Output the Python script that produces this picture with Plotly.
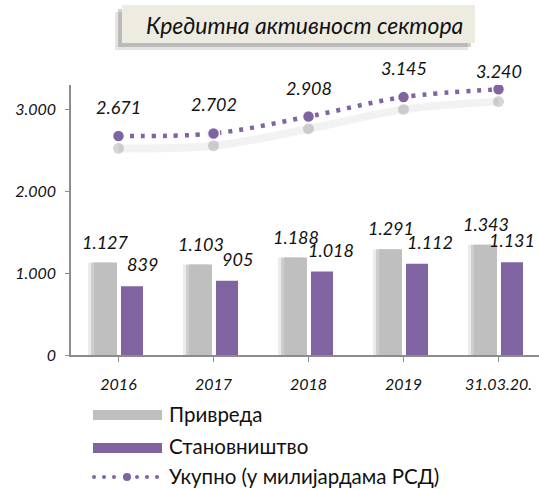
import plotly.graph_objects as go

# ---- data ----
categories = ["2016", "2017", "2018", "2019", "31.03.20."]
privreda = [1127, 1103, 1188, 1291, 1343]
stanovnistvo = [839, 905, 1018, 1112, 1131]
ukupno = [2671, 2702, 2908, 3145, 3240]
y_tick_vals = [0, 1000, 2000, 3000]
y_tick_text = ["0", "1.000", "2.000", "3.000"]
privreda_labels = ["1.127", "1.103", "1.188", "1.291", "1.343"]
stanovnistvo_labels = ["839", "905", "1.018", "1.112", "1.131"]
ukupno_labels = ["2.671", "2.702", "2.908", "3.145", "3.240"]
title_text = "Кредитна активност сектора"
legend_names = ["Привреда", "Становништво", "Укупно (у милијардама РСД)"]

# ---- style ----
W, H = 539, 489
ML, MR, MT, MB = 71, 0, 85, 134
PW, PH = W - ML - MR, H - MT - MB
CAT_PX = 95.0
YMAX = PH / 82.0 * 1000
GRAY = "#BFBFBF"
PURPLE = "#8064A2"
FONT = "Lato, 'Noto Sans', sans-serif"
purple_label_dx = [11, 11, 9, 13, 0]
ukupno_label_dy = [29, 29, 29, 29, 18]

x_idx = list(range(len(categories)))


def px_x(p):
    return (p - ML) / PW


def px_y(p):
    return (H - MB - p) / PH


fig = go.Figure()

# shadows for bars (soft, offset left)
for alpha, shift in [(0.08, 6), (0.12, 3)]:
    fig.add_trace(go.Bar(x=x_idx, y=privreda, offset=-0.258 - shift / CAT_PX, width=0.242,
                         marker=dict(color=f"rgba(0,0,0,{alpha})", line=dict(width=0)),
                         showlegend=False, hoverinfo="skip"))

fig.add_trace(go.Bar(x=x_idx, y=privreda, offset=-0.258, width=0.242, name=legend_names[0],
                     marker=dict(color=GRAY, line=dict(width=0)), showlegend=False))
fig.add_trace(go.Bar(x=x_idx, y=stanovnistvo, offset=0.026, width=0.232, name=legend_names[1],
                     marker=dict(color=PURPLE, line=dict(width=0)), showlegend=False))

# line shadow on shifted axis
fig.add_trace(go.Scatter(x=x_idx, y=ukupno, mode="lines+markers", yaxis="y2",
                         line=dict(color="rgba(0,0,0,0.05)", width=8, shape="spline"),
                         marker=dict(size=11, color="rgba(0,0,0,0.16)"),
                         showlegend=False, hoverinfo="skip"))
fig.add_trace(go.Scatter(x=x_idx, y=ukupno, mode="lines+markers", name=legend_names[2],
                         line=dict(color=PURPLE, width=4.5, dash="4px,7px", shape="spline"),
                         marker=dict(size=12, color=PURPLE, line=dict(color="white", width=1.5)),
                         showlegend=False))

ann = []
lab_font = dict(family=FONT, size=18, color="#111111")
for i in x_idx:
    ann.append(dict(x=i, y=privreda[i], text=f"<i>{privreda_labels[i]}</i>", showarrow=False,
                    xshift=-13, yshift=21, font=lab_font))
    ann.append(dict(x=i, y=stanovnistvo[i], text=f"<i>{stanovnistvo_labels[i]}</i>", showarrow=False,
                    xshift=13 + purple_label_dx[i], yshift=22, font=lab_font))
    ann.append(dict(x=i, y=ukupno[i], text=f"<i>{ukupno_labels[i]}</i>", showarrow=False,
                    yshift=ukupno_label_dy[i], font=lab_font))

shapes = []
# title box with shadow
for alpha, d in [(0.10, 7), (0.18, 4)]:
    shapes.append(dict(type="rect", xref="paper", yref="paper", layer="above",
                       x0=px_x(122 - d), x1=px_x(475 - d), y0=px_y(43 + d), y1=px_y(5 + d),
                       fillcolor=f"rgba(0,0,0,{alpha})", line=dict(width=0)))
shapes.append(dict(type="rect", xref="paper", yref="paper", layer="above",
                   x0=px_x(122), x1=px_x(475), y0=px_y(43), y1=px_y(5),
                   fillcolor="#EEECE1", line=dict(width=0)))
ann.append(dict(xref="paper", yref="paper", x=px_x(304), y=px_y(25), xanchor="center", yanchor="middle",
                showarrow=False, text=f"<i>{title_text}</i>",
                font=dict(family=FONT, size=23, color="#111111")))

# legend (manual)
leg_rows = [415, 447, 477]
shapes.append(dict(type="rect", xref="paper", yref="paper", x0=px_x(93), x1=px_x(162),
                   y0=px_y(420), y1=px_y(410), fillcolor=GRAY, line=dict(width=0)))
shapes.append(dict(type="rect", xref="paper", yref="paper", x0=px_x(93), x1=px_x(162),
                   y0=px_y(453), y1=px_y(443), fillcolor=PURPLE, line=dict(width=0)))
for cx in [94, 104, 114, 137, 147, 157]:
    r = 2
    shapes.append(dict(type="circle", xref="paper", yref="paper", x0=px_x(cx - r), x1=px_x(cx + r),
                       y0=px_y(leg_rows[2] + r), y1=px_y(leg_rows[2] - r), fillcolor=PURPLE,
                       line=dict(width=0)))
r = 4
shapes.append(dict(type="circle", xref="paper", yref="paper", x0=px_x(127 - r), x1=px_x(127 + r),
                   y0=px_y(leg_rows[2] + r), y1=px_y(leg_rows[2] - r), fillcolor=PURPLE,
                   line=dict(width=0)))
for name, ry in zip(legend_names, leg_rows):
    ann.append(dict(xref="paper", yref="paper", x=px_x(167), y=px_y(ry - 1), xanchor="left", yanchor="middle",
                    showarrow=False, text=name, font=dict(family=FONT, size=20.5, color="#111111")))

axis_color = "#8C8C8C"
fig.update_layout(
    width=W, height=H, margin=dict(l=ML, r=MR, t=MT, b=MB, autoexpand=False),
    paper_bgcolor="white", plot_bgcolor="white",
    barmode="overlay", showlegend=False,
    xaxis=dict(range=[-0.5, -0.5 + PW / CAT_PX], tickvals=x_idx,
               ticktext=[f"<i>{c}</i>" for c in categories], automargin=False,
               showline=True, linecolor=axis_color, linewidth=1.5,
               ticks="outside", tickson="boundaries", ticklen=5, tickcolor=axis_color,
               tickfont=dict(family=FONT, size=16, color="#111111"), ticklabelstandoff=9,
               showgrid=False, zeroline=False, fixedrange=True),
    yaxis=dict(range=[0, YMAX], tickvals=y_tick_vals, ticktext=[f"<i>{t}</i>" for t in y_tick_text],
               automargin=False,
               showline=True, linecolor=axis_color, linewidth=1.5,
               ticks="outside", ticklen=4, tickcolor=axis_color,
               tickfont=dict(family=FONT, size=16, color="#111111"), ticklabelstandoff=6,
               showgrid=False, zeroline=False),
    yaxis2=dict(overlaying="y", range=[150, YMAX + 150], visible=False),
    annotations=ann, shapes=shapes,
)

fig.write_html("out.html", config={"displayModeBar": False},
               post_script="document.body.style.margin='0';document.body.style.overflow='hidden';")
